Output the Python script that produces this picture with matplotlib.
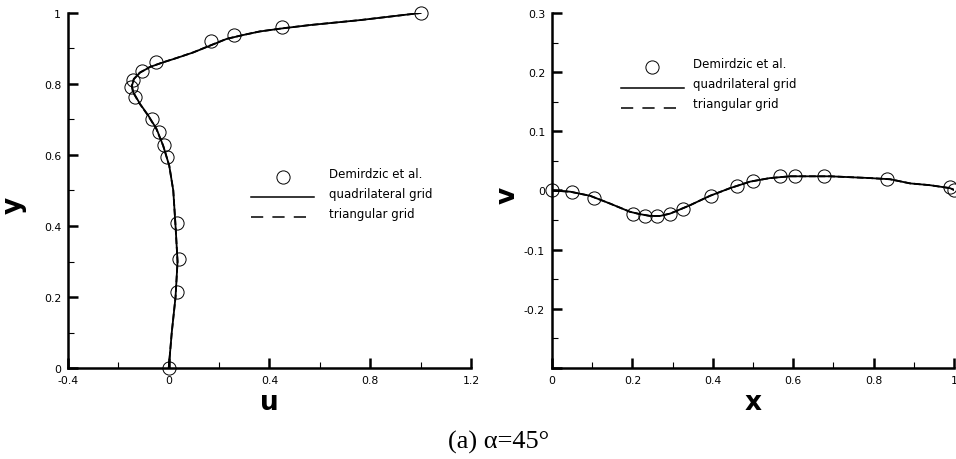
import matplotlib
matplotlib.use("Agg")
import matplotlib.pyplot as plt
from matplotlib.ticker import MultipleLocator
from matplotlib.lines import Line2D
from matplotlib.transforms import ScaledTranslation

plt.rcParams['font.family'] = ['DejaVu Sans']

# ---- u-velocity along the vertical centreline (u, y) ----
ref_u = [0.0, 0.031, 0.041, 0.033, -0.006, -0.019, -0.038, -0.068, -0.135,
         -0.150, -0.143, -0.108, -0.052, 0.168, 0.260, 0.448, 1.0]
ref_y = [0.0, 0.213, 0.308, 0.408, 0.594, 0.629, 0.666, 0.701, 0.763,
         0.792, 0.811, 0.837, 0.861, 0.920, 0.938, 0.960, 1.0]

quad_u = [0.0, 0.012, 0.027, 0.035, 0.027, 0.018, 0.002, -0.022, -0.048,
          -0.081, -0.114, -0.141, -0.146, -0.138, -0.114, -0.074, -0.022,
          0.031, 0.098, 0.164, 0.230, 0.296, 0.362, 0.455, 0.561, 0.760, 1.0]
quad_y = [0.0, 0.1, 0.2, 0.3, 0.4, 0.5, 0.570, 0.626, 0.673,
          0.711, 0.744, 0.777, 0.795, 0.814, 0.832, 0.848, 0.861,
          0.873, 0.889, 0.908, 0.927, 0.938, 0.948, 0.957, 0.966, 0.980, 1.0]

tri_u = [0.0, 0.012, 0.027, 0.035, 0.027, 0.018, 0.002, -0.022, -0.049,
         -0.082, -0.115, -0.142, -0.147, -0.139, -0.115, -0.075, -0.023,
         0.030, 0.097, 0.163, 0.229, 0.295, 0.361, 0.454, 0.560, 0.760, 1.0]
tri_y = quad_y

# ---- v-velocity along the horizontal centreline (x, v) ----
ref_x = [0.0, 0.050, 0.104, 0.202, 0.232, 0.262, 0.294, 0.327, 0.396,
         0.461, 0.499, 0.567, 0.604, 0.677, 0.833, 0.989, 1.0]
ref_v = [0.0, -0.002, -0.013, -0.040, -0.043, -0.043, -0.040, -0.031, -0.009,
         0.008, 0.016, 0.024, 0.024, 0.024, 0.019, 0.006, 0.0]

quad_x = [0.0, 0.045, 0.095, 0.144, 0.194, 0.219, 0.244, 0.269, 0.294,
          0.343, 0.393, 0.443, 0.493, 0.542, 0.592, 0.692, 0.791, 0.841,
          0.891, 0.940, 0.990, 1.0]
quad_v = [0.0, -0.002, -0.009, -0.022, -0.036, -0.040, -0.043, -0.043, -0.039,
          -0.025, -0.009, 0.004, 0.015, 0.021, 0.024, 0.024, 0.021, 0.019,
          0.012, 0.009, 0.004, 0.001]
tri_x = quad_x
tri_v = [0.0, -0.002, -0.009, -0.022, -0.036, -0.040, -0.043, -0.043, -0.039,
         -0.025, -0.009, 0.004, 0.015, 0.021, 0.024, 0.024, 0.021, 0.019,
         0.012, 0.009, 0.004, 0.001]

legend_labels = ["Demirdzic et al.", "quadrilateral grid", "triangular grid"]

fig = plt.figure(figsize=(9.56, 4.6), dpi=100)
ax1 = fig.add_axes([0.0711, 0.1978, 0.4216, 0.7718])
ax2 = fig.add_axes([0.5774, 0.1978, 0.4205, 0.7718])

mk = dict(marker='o', ls='none', ms=9.5, mfc='none', mec='black', mew=0.7)
fmt = plt.FuncFormatter(lambda v, p: f"{round(v, 2):g}")


def style(ax):
    for s in ('top', 'right'):
        ax.spines[s].set_visible(False)
    for s in ('left', 'bottom'):
        ax.spines[s].set_linewidth(1.8)
    ax.tick_params(which='major', direction='in', length=7, width=1.8,
                   labelsize=7.8, pad=5)
    ax.tick_params(which='minor', direction='in', length=4, width=0.8)


# left panel
ax1.plot(quad_u, quad_y, color='black', lw=1.3, ls='-', zorder=3)
ax1.plot(tri_u, tri_y, color='black', lw=1.3, ls='--', zorder=3)
ax1.plot(ref_u, ref_y, zorder=4, clip_on=False, **mk)
ax1.set_xlim(-0.4, 1.2)
ax1.set_ylim(0, 1)
ax1.xaxis.set_major_locator(MultipleLocator(0.4))
ax1.xaxis.set_minor_locator(MultipleLocator(0.2))
ax1.yaxis.set_major_locator(MultipleLocator(0.2))
ax1.yaxis.set_minor_locator(MultipleLocator(0.1))
ax1.xaxis.set_major_formatter(fmt)
ax1.yaxis.set_major_formatter(fmt)
style(ax1)
ax1.set_xlabel('u', fontsize=19, fontweight='bold')
ax1.set_ylabel('y', fontsize=19, fontweight='bold')
ax1.xaxis.set_label_coords(0.5, -0.058)
ax1.yaxis.set_label_coords(-0.103, 0.46)

# right panel
ax2.plot(quad_x, quad_v, color='black', lw=1.3, ls='-', zorder=3)
ax2.plot(tri_x, tri_v, color='black', lw=1.3, ls='--', zorder=3)
ax2.plot(ref_x, ref_v, zorder=4, clip_on=False, **mk)
ax2.set_xlim(0, 1)
ax2.set_ylim(-0.3, 0.3)
ax2.xaxis.set_major_locator(MultipleLocator(0.2))
ax2.xaxis.set_minor_locator(MultipleLocator(0.1))
ax2.yaxis.set_major_locator(MultipleLocator(0.1))
ax2.yaxis.set_minor_locator(MultipleLocator(0.05))
ax2.xaxis.set_major_formatter(fmt)
ax2.yaxis.set_major_formatter(
    plt.FuncFormatter(lambda v, p: "" if v < -0.25 else f"{round(v, 2):g}"))
style(ax2)
ax2.set_xlabel('x', fontsize=19, fontweight='bold')
ax2.set_ylabel('v', fontsize=19, fontweight='bold')
ax2.xaxis.set_label_coords(0.5, -0.058)
ax2.yaxis.set_label_coords(-0.078, 0.49)


def add_legend(ax, anchor, textpad):
    handles = [Line2D([], [], **mk),
               Line2D([], [], color='black', lw=1.1, ls='-'),
               Line2D([], [], color='black', lw=1.1, ls=(0, (8, 6)))]
    leg = ax.legend(handles, legend_labels, loc='upper left',
                    bbox_to_anchor=anchor, frameon=False, fontsize=8.5,
                    handlelength=5.3, handletextpad=textpad,
                    labelspacing=0.6, borderpad=0, borderaxespad=0)
    # labels sit a little above their sample symbols
    lift = ScaledTranslation(0, 4.5 / 100, fig.dpi_scale_trans)
    for t in leg.get_texts():
        t.set_transform(t.get_transform() + lift)
    return leg


add_legend(ax1, (0.455, 0.554), 1.27)
add_legend(ax2, (0.172, 0.863), 0.76)

fig.text(0.522, 0.012, "(a) α=45°", ha='center', va='bottom',
         fontsize=19, family=['Liberation Serif', 'DejaVu Serif'])

fig.savefig("out.png", dpi=100)
